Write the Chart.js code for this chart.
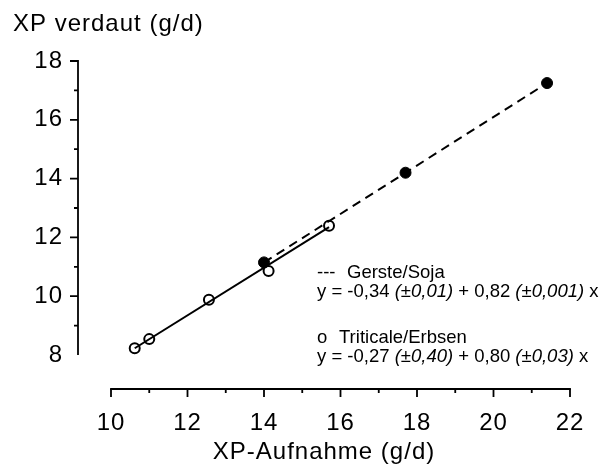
<!DOCTYPE html>
<html>
<head>
<meta charset="utf-8">
<script src="https://cdn.jsdelivr.net/npm/chart.js@4/dist/chart.umd.min.js"></script>
<style>
  html, body { margin: 0; padding: 0; background: #fff; }
  #wrap { width: 605px; height: 470px; }
</style>
</head>
<body>
<div id="wrap"><canvas id="c" width="605" height="470"></canvas></div>
<script>
// ---- data ----
const gersteX = [14.0, 17.7, 21.4];
const gersteY = [11.15, 14.2, 17.25];
const triticaleX = [10.62, 11.0, 12.56, 14.12, 15.7];
const triticaleY = [8.23, 8.54, 9.88, 10.86, 12.4];
const gersteFitX = [14.0, 21.4];
const gersteFitY = [11.15, 17.25];
const triticaleFitX = [10.62, 15.7];
const triticaleFitY = [8.23, 12.35];
const xTicks = [10, 12, 14, 16, 18, 20, 22];
const xMinorTicks = [11, 13, 15, 17, 19, 21];
const yTicks = [8, 10, 12, 14, 16, 18];
const yMinorTicks = [9, 11, 13, 15, 17];
const yTitle = 'XP verdaut (g/d)';
const xTitle = 'XP-Aufnahme (g/d)';
const legendLines = [
  { name: '---', label: 'Gerste/Soja', eq: [['y = -0,34 ', false], ['(±0,01)', true], [' + 0,82 ', false], ['(±0,001)', true], [' x', false]] },
  { name: 'o', label: 'Triticale/Erbsen', eq: [['y = -0,27 ', false], ['(±0,40)', true], [' + 0,80 ', false], ['(±0,03)', true], [' x', false]] }
];

const pts = (xs, ys) => xs.map((x, i) => ({ x, y: ys[i] }));
const FONT = "'Liberation Sans', Arial, Helvetica, sans-serif";

const axesPlugin = {
  id: 'customAxes',
  beforeUpdate(chart) { chart.ctx.letterSpacing = '1px'; },
  beforeDraw(chart) { chart.ctx.letterSpacing = '1px'; },
  beforeDatasetsDraw(chart) {
    const ctx = chart.ctx;
    const xs = chart.scales.x, ys = chart.scales.y;
    const ax = chart.chartArea.left, ay = chart.chartArea.bottom;
    ctx.save();
    ctx.strokeStyle = '#000';
    ctx.lineWidth = 1.8;
    ctx.lineCap = 'butt';
    // y axis
    ctx.beginPath();
    ctx.moveTo(ax, ys.getPixelForValue(yTicks[0]));
    ctx.lineTo(ax, ys.getPixelForValue(yTicks[yTicks.length - 1]) - 0.9);
    ctx.stroke();
    ctx.beginPath();
    yTicks.slice(1).forEach(v => { const p = ys.getPixelForValue(v); ctx.moveTo(ax, p); ctx.lineTo(ax - 8, p); });
    yMinorTicks.forEach(v => { const p = ys.getPixelForValue(v); ctx.moveTo(ax, p); ctx.lineTo(ax - 4, p); });
    ctx.stroke();
    // x axis
    ctx.beginPath();
    ctx.moveTo(xs.getPixelForValue(xTicks[0]) - 0.9, ay);
    ctx.lineTo(xs.getPixelForValue(xTicks[xTicks.length - 1]) + 0.9, ay);
    ctx.stroke();
    ctx.beginPath();
    xTicks.forEach(v => { const p = xs.getPixelForValue(v); ctx.moveTo(p, ay); ctx.lineTo(p, ay + 8); });
    xMinorTicks.forEach(v => { const p = xs.getPixelForValue(v); ctx.moveTo(p, ay); ctx.lineTo(p, ay + 4); });
    ctx.stroke();
    // y title (horizontal, top-left)
    ctx.fillStyle = '#000';
    ctx.font = '24px ' + FONT;
    ctx.letterSpacing = '1px';
    ctx.textAlign = 'left';
    ctx.textBaseline = 'alphabetic';
    ctx.fillText(yTitle, 13, 31);
    // legend text
    ctx.letterSpacing = '0px';
    const lx = 317;
    const baselines = [[278, 297], [343, 362]];
    legendLines.forEach((l, i) => {
      ctx.font = '18.5px ' + FONT;
      ctx.fillText(l.name, lx, baselines[i][0]);
      ctx.fillText(l.label, i === 0 ? 347 : 339, baselines[i][0]);
      let x = lx;
      l.eq.forEach(([t, it]) => {
        ctx.font = (it ? 'italic ' : '') + '18.5px ' + FONT;
        ctx.fillText(t, x, baselines[i][1]);
        x += ctx.measureText(t).width;
      });
    });
    ctx.restore();
  }
};

new Chart(document.getElementById('c'), {
  type: 'scatter',
  data: {
    datasets: [
      { label: 'Gerste/Soja Regression', data: pts(gersteFitX, gersteFitY), showLine: true,
        borderColor: '#000', borderWidth: 2, borderDash: [9, 6], pointRadius: 0, fill: false },
      { label: 'Triticale/Erbsen Regression', data: pts(triticaleFitX, triticaleFitY), showLine: true,
        borderColor: '#000', borderWidth: 2, pointRadius: 0, fill: false },
      { label: 'Gerste/Soja', data: pts(gersteX, gersteY), showLine: false,
        pointRadius: 5.5, pointBackgroundColor: '#000', pointBorderColor: '#000', pointBorderWidth: 1 },
      { label: 'Triticale/Erbsen', data: pts(triticaleX, triticaleY), showLine: false,
        pointRadius: 5, pointBackgroundColor: '#fff', pointBorderColor: '#000', pointBorderWidth: 2 }
    ]
  },
  options: {
    responsive: false,
    animation: false,
    events: [],
    layout: { padding: { top: 61, right: 35, left: 0, bottom: 0 } },
    plugins: { legend: { display: false }, tooltip: { enabled: false }, title: { display: false } },
    scales: {
      x: {
        type: 'linear', position: 'bottom',
        min: 10 - 33 / 38.25, max: 22,
        afterBuildTicks: s => { s.ticks = xTicks.map(v => ({ value: v })); },
        afterFit: s => { s.height = 81; },
        grid: { display: false, drawTicks: false },
        border: { display: false },
        ticks: { color: '#000', font: { family: FONT, size: 24 }, padding: 20, maxRotation: 0, autoSkip: false },
        title: { display: true, text: xTitle, color: '#000', font: { family: FONT, size: 24 }, padding: { top: 0, bottom: 3 } }
      },
      y: {
        type: 'linear', position: 'left',
        min: 8 - 34 / 29.4, max: 18,
        afterBuildTicks: s => { s.ticks = yTicks.map(v => ({ value: v })); },
        afterFit: s => { s.width = 78; },
        grid: { display: false, drawTicks: false },
        border: { display: false },
        ticks: { color: '#000', font: { family: FONT, size: 24 }, padding: 15, autoSkip: false }
      }
    }
  },
  plugins: [axesPlugin]
});
</script>
</body>
</html>
